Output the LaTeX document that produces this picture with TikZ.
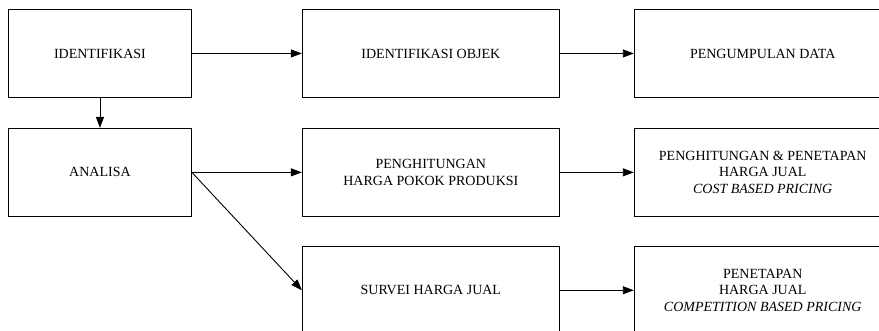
\documentclass[tikz,border=0pt]{standalone}
\usepackage{fontspec}
\setmainfont{Liberation Serif}
\usetikzlibrary{positioning,arrows.meta}

\begin{document}
\begin{tikzpicture}[
  >={Triangle[length=11pt,width=8pt]},
  box/.style={draw, line width=0.9pt, minimum height=88pt, align=center, inner sep=2pt,
    font=\fontsize{14}{16.8}\selectfont},
  leftbox/.style={box, minimum width=183pt},
  midbox/.style={box, minimum width=257pt},
  rightbox/.style={box, minimum width=257pt},
  link/.style={->, line width=0.9pt},
]
  \path[use as bounding box, clip] (0,0) rectangle (879pt,-331pt);
  \node[leftbox, anchor=north west] (ident) at (8pt,-9pt) {IDENTIFIKASI};
  \node[leftbox, below=30pt of ident] (analisa) {ANALISA};
  \node[midbox, right=110pt of ident] (objek) {IDENTIFIKASI OBJEK};
  \node[midbox, right=110pt of analisa] (hpp) {PENGHITUNGAN\\HARGA POKOK PRODUKSI};
  \node[midbox, below=29pt of hpp] (survei) {SURVEI HARGA JUAL};
  \node[rightbox, right=74pt of objek] (data) {PENGUMPULAN DATA};
  \node[rightbox, right=74pt of hpp] (costbp) {PENGHITUNGAN \& PENETAPAN\\HARGA JUAL\\\textit{COST BASED PRICING}};
  \node[rightbox, right=74pt of survei] (compbp) {PENETAPAN\\HARGA JUAL\\\textit{COMPETITION BASED PRICING}};
  \draw[link] (ident) -- (objek);
  \draw[link] (ident) -- (analisa);
  \draw[link] (analisa) -- (hpp);
  \draw[link] (analisa.east) -- (survei.west);
  \draw[link] (objek) -- (data);
  \draw[link] (hpp) -- (costbp);
  \draw[link] (survei) -- (compbp);
\end{tikzpicture}
\end{document}
